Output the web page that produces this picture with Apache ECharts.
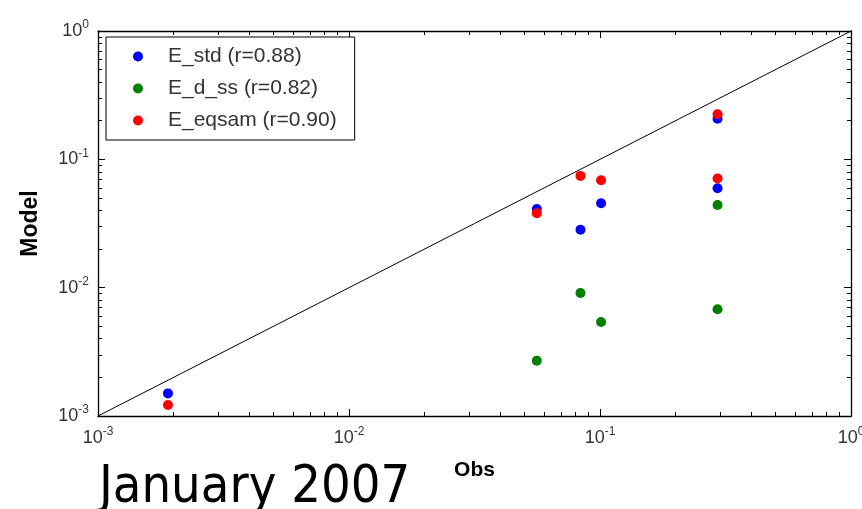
<!DOCTYPE html>
<html>
<head>
<meta charset="utf-8">
<script src="https://cdn.jsdelivr.net/npm/echarts@6/dist/echarts.min.js"></script>
<style>
html,body{margin:0;padding:0;background:#fff;}
#chart{width:862px;height:509px;}
</style>
</head>
<body>
<div id="chart"></div>
<script>
// ---- data ----
const seriesNames = ['E_std (r=0.88)', 'E_d_ss (r=0.82)', 'E_eqsam (r=0.90)'];
const eStd = [[0.0019, 0.0015], [0.056, 0.041], [0.0836, 0.0283], [0.101, 0.0455], [0.294, 0.2075], [0.294, 0.0595]];
const eDss = [[0.056, 0.0027], [0.0836, 0.0091], [0.101, 0.0054], [0.294, 0.0441], [0.294, 0.0068]];
const eEqsam = [[0.0019, 0.00122], [0.056, 0.038], [0.0836, 0.0743], [0.101, 0.0687], [0.294, 0.2247], [0.294, 0.0708]];
const oneToOne = [[0.001, 0.001], [1, 1]];
const majorTicks = [0.001, 0.01, 0.1, 1];
const minorMultipliers = [2, 3, 4, 5, 6, 7, 8, 9];
const xTitle = 'Obs';
const yTitle = 'Model';
const caption = 'January 2007';

const minorTicks = [];
for (let i = 0; i < majorTicks.length - 1; i++) {
  minorMultipliers.forEach(m => minorTicks.push(+(majorTicks[i] * m).toPrecision(6)));
}

const FONT = 'Liberation Sans, Arial, Helvetica, sans-serif';
const labelRich = {
  b: { fontSize: 18, color: '#333', fontFamily: FONT },
  s: { fontSize: 12, color: '#333', fontFamily: FONT, padding: [0, 0, 12, 0] }
};
function expLabel(v) {
  const e = Math.round(Math.log10(v));
  return '{b|10}{s|' + e + '}';
}

function makeAxis(pos, kind) {
  const isMajor = kind === 'major';
  const showLabel = isMajor && (pos === 'bottom' || pos === 'left');
  return {
    type: 'log',
    logBase: 10,
    min: 0.001,
    max: 1,
    position: pos,
    gridIndex: 0,
    splitLine: { show: false },
    axisLine: { show: isMajor, onZero: false, lineStyle: { color: '#000', width: 1.3 } },
    axisTick: {
      show: true, inside: true, length: isMajor ? 7 : 4,
      customValues: isMajor ? majorTicks : minorTicks,
      lineStyle: { color: '#000', width: 1 }
    },
    axisLabel: showLabel ? {
      show: true, customValues: majorTicks, formatter: expLabel, rich: labelRich,
      margin: pos === 'bottom' ? 10 : 9, hideOverlap: false
    } : { show: false },
    name: (isMajor && pos === 'bottom') ? xTitle : (isMajor && pos === 'left') ? yTitle : '',
    nameLocation: 'middle',
    nameGap: pos === 'bottom' ? 44 : 56,
    nameTextStyle: {
      fontFamily: FONT, fontWeight: 'bold', color: '#000',
      fontSize: pos === 'bottom' ? 21 : 23
    }
  };
}

const chart = echarts.init(document.getElementById('chart'), null, { renderer: 'canvas' });
chart.setOption({
  animation: false,
  backgroundColor: '#fff',
  title: {
    text: caption,
    left: 99,
    top: 462,
    textStyle: { fontFamily: 'DejaVu Sans Condensed, DejaVu Sans, sans-serif', fontWeight: 'normal', fontSize: 52, color: '#000' },
    padding: 0
  },
  grid: { left: 98, top: 31, width: 753, height: 385, containLabel: false, outerBoundsMode: 'none' },
  legend: {
    orient: 'vertical',
    left: 106,
    top: 37,
    data: seriesNames,
    icon: 'circle',
    itemWidth: 10,
    itemHeight: 10,
    itemGap: 11,
    padding: [9, 18, 9, 27],
    borderColor: '#000',
    borderWidth: 1,
    backgroundColor: '#fff',
    textStyle: { fontFamily: FONT, fontSize: 21, color: '#333', padding: [0, 0, 0, 20] }
  },
  xAxis: [makeAxis('bottom', 'major'), makeAxis('bottom', 'minor'), makeAxis('top', 'major'), makeAxis('top', 'minor')],
  yAxis: [makeAxis('left', 'major'), makeAxis('left', 'minor'), makeAxis('right', 'major'), makeAxis('right', 'minor')],
  series: [
    {
      type: 'line', data: oneToOne, showSymbol: false, symbol: 'none', silent: true,
      lineStyle: { color: '#000', width: 1 }, z: 1
    },
    { name: seriesNames[0], type: 'scatter', data: eStd, symbolSize: 10, itemStyle: { color: '#0000ff', opacity: 1 }, z: 3 },
    { name: seriesNames[1], type: 'scatter', data: eDss, symbolSize: 10, itemStyle: { color: '#008000', opacity: 1 }, z: 3 },
    { name: seriesNames[2], type: 'scatter', data: eEqsam, symbolSize: 10, itemStyle: { color: '#ff0000', opacity: 1 }, z: 3 }
  ]
});
</script>
</body>
</html>
